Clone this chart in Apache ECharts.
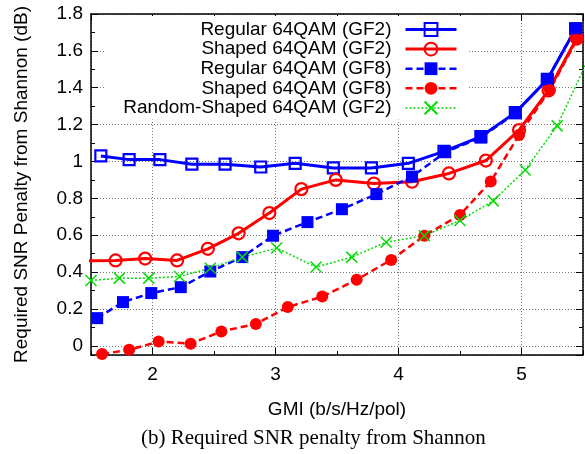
<!DOCTYPE html>
<html lang="en">
<head>
    <meta charset="UTF-8">
    <title>Required SNR penalty from Shannon</title>
    <script src="https://cdn.jsdelivr.net/npm/echarts@6/dist/echarts.min.js"></script>
    <style type="text/css">
        body{ margin: 0; background: #fff; }
    </style>
</head>
<body>
<div id="main" style="width: 585px;height:454px;"></div>
<script type="text/javascript">
    // GMI (x) and penalty in dB (y), one pair of arrays per curve
    var regGF2X = [1.58, 1.81, 2.06, 2.32, 2.59, 2.88, 3.16, 3.47, 3.78, 4.08, 4.37, 4.67, 4.95, 5.21, 5.44];
    var regGF2Y = [1.03, 1.01, 1.01, 0.985, 0.985, 0.97, 0.99, 0.965, 0.965, 0.99, 1.055, 1.135, 1.265, 1.445, 1.72];

    var shpGF2X = [1.33, 1.70, 1.94, 2.20, 2.45, 2.70, 2.95, 3.21, 3.49, 3.80, 4.11, 4.41, 4.71, 4.98, 5.22, 5.45];
    var shpGF2Y = [0.46, 0.463, 0.473, 0.463, 0.526, 0.61, 0.72, 0.85, 0.90, 0.88, 0.89, 0.935, 1.005, 1.17, 1.385, 1.67];

    var regGF8X = [1.55, 1.76, 1.99, 2.23, 2.47, 2.73, 2.98, 3.26, 3.54, 3.82, 4.11, 4.38, 4.67, 4.95, 5.21, 5.44];
    var regGF8Y = [0.15, 0.237, 0.286, 0.318, 0.403, 0.481, 0.597, 0.671, 0.741, 0.823, 0.918, 1.05, 1.13, 1.262, 1.446, 1.723];

    var shpGF8X = [1.59, 1.81, 2.05, 2.31, 2.56, 2.84, 3.10, 3.38, 3.66, 3.94, 4.21, 4.50, 4.75, 4.98, 5.23, 5.45];
    var shpGF8Y = [-0.045, -0.022, 0.023, 0.011, 0.078, 0.118, 0.21, 0.267, 0.358, 0.466, 0.597, 0.71, 0.891, 1.144, 1.388, 1.66];

    var rndGF2X = [1.50, 1.73, 1.97, 2.22, 2.47, 2.73, 3.01, 3.33, 3.62, 3.90, 4.21, 4.50, 4.77, 5.03, 5.29, 5.56];
    var rndGF2Y = [0.354, 0.367, 0.367, 0.376, 0.421, 0.481, 0.53, 0.427, 0.481, 0.562, 0.597, 0.68, 0.786, 0.954, 1.193, 1.58];

    var names = ['Regular 64QAM (GF2)', 'Shaped 64QAM (GF2)', 'Regular 64QAM (GF8)',
                 'Shaped 64QAM (GF8)', 'Random-Shaped 64QAM (GF2)'];

    var xName = 'GMI (b/s/Hz/pol)';
    var yName = 'Required SNR Penalty from Shannon (dB)';
    var caption = '(b) Required SNR penalty from Shannon';

    var blue = '#0000ff', red = '#ff0000', green = '#00dd00';
    var font = 'Liberation Sans';

    var myChart = echarts.init(document.getElementById('main'));

    var zip = function (xs, ys) {
        var res = [];
        for (var i = 0; i < xs.length; i++) {
            res.push([xs[i], ys[i]]);
        }
        return res;
    };

    // one axis helper for the frame, the mirrored side and the minor ticks
    var frameLine = { show: true, onZero: false, lineStyle: { color: '#000', width: 1.5 } };
    var noLine = { show: false, onZero: false };
    var axis = function (pos, min, max, split, tickLen, line) {
        return {
            type: 'value', position: pos, min: min, max: max, splitNumber: split,
            axisLine: line,
            axisTick: { show: true, inside: true, length: tickLen, lineStyle: { color: '#000', width: 1 } },
            axisLabel: { show: false },
            splitLine: { show: false }
        };
    };

    var xMain = axis('bottom', 1.5, 5.5, 4, 7, frameLine);
    xMain.axisLabel = { show: true, showMinLabel: false, showMaxLabel: false, margin: 10,
        fontSize: 19, fontFamily: font, color: '#000' };
    xMain.splitLine = { show: true, lineStyle: { color: '#777', width: 1, type: [1, 2] } };
    xMain.name = xName;
    xMain.nameLocation = 'middle';
    xMain.nameGap = 45;
    xMain.nameTextStyle = { fontSize: 19, fontFamily: font, color: '#000' };

    var yMain = axis('left', -0.05, 1.8, 9, 7, frameLine);
    yMain.axisLabel = { show: true, showMinLabel: false, margin: 8,
        fontSize: 19, fontFamily: font, color: '#000' };
    yMain.splitLine = { show: true, lineStyle: { color: '#777', width: 1, type: [1, 2] } };
    yMain.name = yName;
    yMain.nameLocation = 'middle';
    yMain.nameGap = 60;
    yMain.nameTextStyle = { fontSize: 19, fontFamily: font, color: '#000' };

    var lineSeries = function (name, data, symbol, size, lineStyle, itemStyle) {
        return {
            name: name, type: 'line', data: data,
            xAxisIndex: 0, yAxisIndex: 0,
            symbol: symbol, symbolSize: size, showAllSymbol: true,
            lineStyle: lineStyle, itemStyle: itemStyle,
            emphasis: { disabled: true },
            clip: true
        };
    };

    option = {
        animation: false,
        backgroundColor: '#fff',
        title: {
            text: caption, left: 141, top: 428, padding: 0,
            textStyle: { fontFamily: 'Liberation Serif', fontSize: 21, fontWeight: 'normal', color: '#000' }
        },
        grid: { left: 91, right: 2, top: 14, bottom: 99 },
        legend: {
            orient: 'vertical', align: 'right', right: 117, top: 16,
            itemWidth: 51, itemHeight: 16, itemGap: 0.6,
            padding: [4, 10, 2, 19],
            backgroundColor: '#fff',
            selectedMode: false,
            lineStyle: { width: 'inherit' },
            textStyle: { fontSize: 19, fontFamily: font, color: '#000', padding: [0, 9, 0, 0] },
            data: names
        },
        xAxis: [
            xMain,
            axis('top', 1.5, 5.5, 4, 7, frameLine),
            axis('bottom', 1.5, 5.5, 8, 4, noLine),
            axis('top', 1.5, 5.5, 8, 4, noLine)
        ],
        yAxis: [
            yMain,
            axis('right', -0.05, 1.8, 9, 7, frameLine),
            axis('left', -0.05, 1.8, 18, 4, noLine),
            axis('right', -0.05, 1.8, 18, 4, noLine)
        ],
        series: [
            lineSeries(names[0], zip(regGF2X, regGF2Y), 'rect', 11,
                { color: blue, width: 3 },
                { color: 'rgba(0,0,0,0)', borderColor: blue, borderWidth: 2.2 }),
            lineSeries(names[1], zip(shpGF2X, shpGF2Y), 'circle', 12,
                { color: red, width: 3 },
                { color: 'rgba(0,0,0,0)', borderColor: red, borderWidth: 2.2 }),
            lineSeries(names[2], zip(regGF8X, regGF8Y), 'rect', 12,
                { color: blue, width: 2.5, type: [7, 4] },
                { color: blue }),
            lineSeries(names[3], zip(shpGF8X, shpGF8Y), 'circle', 12,
                { color: red, width: 2.5, type: [7, 4] },
                { color: red }),
            lineSeries(names[4], zip(rndGF2X, rndGF2Y), 'path://M0,0L10,10M10,0L0,10', 11,
                { color: green, width: 1.5, type: [2, 2] },
                { color: green, borderColor: green, borderWidth: 1.5 })
        ]
    };

    myChart.setOption(option);
</script>
</body>
</html>
